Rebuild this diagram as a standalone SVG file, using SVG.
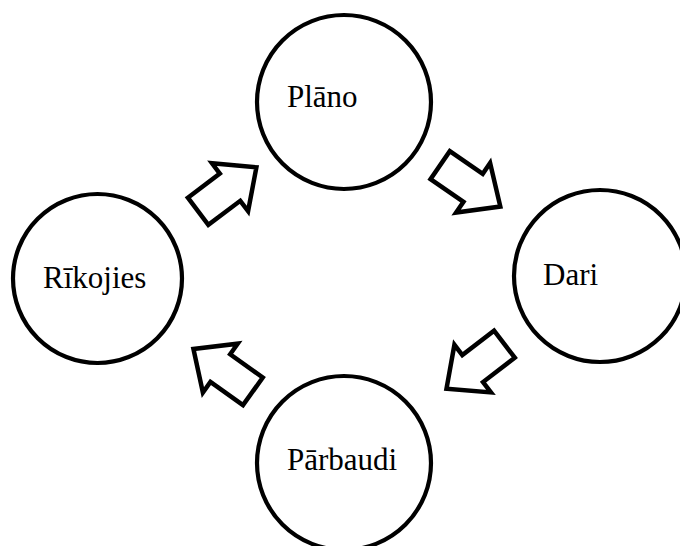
<svg xmlns="http://www.w3.org/2000/svg" xmlns:xlink="http://www.w3.org/1999/xlink" width="680" height="546" viewBox="0 0 680 546">
  <style>
    .node { fill: #ffffff; stroke: #000000; stroke-width: 4.2; }
    .label { font-family: "Liberation Serif", "Times New Roman", serif; font-size: 31px; fill: #000000; }
    .flow { fill: #ffffff; stroke: #000000; stroke-width: 4.5; stroke-linejoin: miter; stroke-miterlimit: 10; }
  </style>
  <defs>
    <!-- block arrow pointing along +x, tail at the origin -->
    <polygon id="block-arrow" points="2,-17 42,-17 42,-30 75,0 42,30 42,17 2,17"/>
  </defs>
  <rect width="680" height="546" fill="#ffffff"/>

  <!-- cycle arrows -->
  <g id="connectors" class="flow">
    <use xlink:href="#block-arrow" transform="translate(196.5,212.5) rotate(-37)"/>
    <use xlink:href="#block-arrow" transform="translate(438.5,164) rotate(34.5)"/>
    <use xlink:href="#block-arrow" transform="translate(506,343) rotate(142.5)"/>
    <use xlink:href="#block-arrow" transform="translate(254.5,392.5) rotate(-144.5)"/>
  </g>

  <g id="plano">
    <circle class="node" cx="344" cy="102" r="87"/>
    <text class="label" x="287" y="107">Plāno</text>
  </g>
  <g id="dari">
    <circle class="node" cx="600" cy="276" r="86"/>
    <text class="label" x="543" y="285">Dari</text>
  </g>
  <g id="parbaudi">
    <circle class="node" cx="344" cy="463" r="87"/>
    <text class="label" x="287" y="470">Pārbaudi</text>
  </g>
  <g id="rikojies">
    <circle class="node" cx="97.5" cy="278.5" r="84.5"/>
    <text class="label" x="43" y="288">Rīkojies</text>
  </g>
</svg>
